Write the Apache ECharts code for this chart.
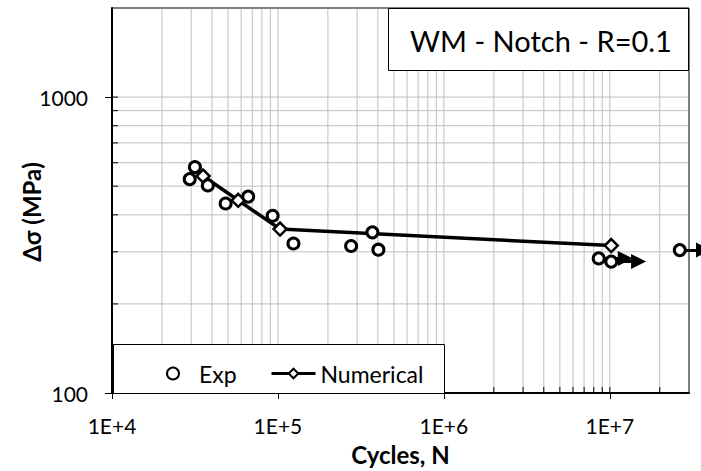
<!DOCTYPE html>
<html>
<head>
<meta charset="utf-8">
<script src="https://cdn.jsdelivr.net/npm/echarts@6/dist/echarts.min.js"></script>
<style>
  html, body { margin: 0; padding: 0; background: #fff; }
  #chart { width: 701px; height: 471px; }
</style>
</head>
<body>
<div id="chart"></div>
<script>
// experimental points (cycles, stress range)
var expN = [2.94e4, 3.16e4, 3.78e4, 4.84e4, 6.62e4, 9.29e4, 1.24e5, 2.76e5, 3.71e5, 4.03e5, 8.57e6, 1.02e7, 2.64e7];
var expS = [528, 580, 503, 437, 461, 397, 320, 314, 349, 305, 285, 278, 304];
// numerical curve
var numN = [3.54e4, 5.76e4, 1.03e5, 1.02e7];
var numS = [541, 448, 358, 315];
// run-outs: start point and arrow tip
var runN = [8.57e6, 1.02e7, 2.64e7];
var runS = [285, 278, 304];
var runEndN = [1.24e7, 1.49e7, 3.67e7];
// ticks and gridlines
var xTicks = [1e4, 1e5, 1e6, 1e7];
var yTicks = [100, 1000];
var xGrid = [2e4, 3e4, 4e4, 5e4, 6e4, 7e4, 8e4, 9e4, 1e5,
             2e5, 3e5, 4e5, 5e5, 6e5, 7e5, 8e5, 9e5, 1e6,
             2e6, 3e6, 4e6, 5e6, 6e6, 7e6, 8e6, 9e6, 1e7, 2e7];
var yGrid = [200, 300, 400, 500, 600, 700, 800, 900, 1000];
var X_MIN = 1e4, X_MAX = 3e7, Y_MIN = 100, Y_MAX = 2000;

var font = 'Lato, "Liberation Sans", sans-serif';

function pairs(a, b) {
	return a.map(function (v, i) { return [v, b[i]]; });
}

// vertical grid line + small inner tick on the x axis
function xGridItem(params, api) {
	var p = api.coord([api.value(0), Y_MIN]);
	var cs = params.coordSys;
	return {
		type: 'group',
		children: [
			{ type: 'line', shape: { x1: p[0], y1: cs.y + 1, x2: p[0], y2: cs.y + cs.height - 1 },
			  style: { stroke: '#bfbfbf', lineWidth: 1 } },
			{ type: 'line', shape: { x1: p[0], y1: cs.y + cs.height, x2: p[0], y2: cs.y + cs.height - 6 },
			  style: { stroke: '#000', lineWidth: 1 } }
		]
	};
}
// horizontal grid line + small inner tick on the y axis
function yGridItem(params, api) {
	var p = api.coord([X_MIN, api.value(1)]);
	var cs = params.coordSys;
	return {
		type: 'group',
		children: [
			{ type: 'line', shape: { x1: cs.x + 1, y1: p[1], x2: cs.x + cs.width - 1, y2: p[1] },
			  style: { stroke: '#bfbfbf', lineWidth: 1 } },
			{ type: 'line', shape: { x1: cs.x, y1: p[1], x2: cs.x + 6, y2: p[1] },
			  style: { stroke: '#000', lineWidth: 1 } }
		]
	};
}

var option = {
	backgroundColor: '#fff',
	animation: false,
	grid: {
		left: 112, top: 8, right: 12, bottom: 77,
		show: true, borderColor: '#000', borderWidth: 1
	},
	xAxis: {
		type: 'log', logBase: 10, min: X_MIN, max: X_MAX,
		name: 'Cycles, N', nameLocation: 'middle', nameGap: 49,
		nameTextStyle: { fontFamily: font, fontSize: 24, fontWeight: 'bold', color: '#000' },
		axisLine: { lineStyle: { color: '#000', width: 2 } },
		axisTick: { show: true, length: 6, customValues: xTicks, lineStyle: { color: '#000' } },
		axisLabel: {
			fontFamily: font, fontSize: 21, color: '#000', margin: 22,
			customValues: xTicks,
			formatter: function (v) { return '1E+' + Math.round(Math.log10(v)); }
		},
		splitLine: { show: false }
	},
	yAxis: {
		type: 'log', logBase: 10, min: Y_MIN, max: Y_MAX,
		axisLine: { lineStyle: { color: '#000', width: 2 } },
		axisTick: { show: true, length: 7, customValues: yTicks, lineStyle: { color: '#000' } },
		axisLabel: {
			fontFamily: font, fontSize: 21, color: '#000', margin: 24,
			customValues: yTicks,
			formatter: function (v) { return String(Math.round(v)); }
		},
		splitLine: { show: false }
	},
	legend: [
		{
			z: 200, left: 161, top: 357,
			itemWidth: 12, itemHeight: 12,
			textStyle: { fontFamily: font, fontSize: 23, color: '#000', padding: [0, 0, 0, 15] },
			data: ['Exp']
		},
		{
			z: 200, left: 265, top: 357,
			itemWidth: 44, itemHeight: 12,
			textStyle: { fontFamily: font, fontSize: 23, color: '#000' },
			data: [{ name: 'Numerical', lineStyle: { width: 3 } }]
		}
	],
	graphic: {
		elements: [
			{
				type: 'rect', z: 100,
				shape: { x: 113.5, y: 344.5, width: 331, height: 49 },
				style: { fill: '#fff', stroke: '#000', lineWidth: 1 }
			},
			{
				type: 'rect', z: 100,
				shape: { x: 388.5, y: 8.5, width: 300, height: 62 },
				style: { fill: '#fff', stroke: '#000', lineWidth: 1 }
			},
			{
				type: 'text', z: 101, x: 541, y: 40,
				style: {
					text: 'WM - Notch - R=0.1', fill: '#000',
					font: '29px ' + font, align: 'center', verticalAlign: 'middle'
				}
			},
			{
				type: 'text', z: 101, x: 31, y: 212, rotation: Math.PI / 2,
				style: {
					text: 'Δσ (MPa)', fill: '#000',
					font: 'bold 24px ' + font, align: 'center', verticalAlign: 'middle'
				}
			}
		]
	},
	series: [
		{
			type: 'custom', z: 1, silent: true, clip: true,
			renderItem: xGridItem,
			data: xGrid.map(function (v) { return [v, Y_MIN]; })
		},
		{
			type: 'custom', z: 1, silent: true, clip: true,
			renderItem: yGridItem,
			data: yGrid.map(function (v) { return [X_MIN, v]; })
		},
		{
			type: 'lines', coordinateSystem: 'cartesian2d', z: 2, clip: false,
			symbol: ['none', 'triangle'], symbolSize: [13, 15],
			lineStyle: { color: '#000', width: 3, opacity: 1 },
			data: runN.map(function (n, i) {
				return { coords: [[n, runS[i]], [runEndN[i], runS[i]]] };
			})
		},
		{
			name: 'Numerical', type: 'line', z: 3,
			symbol: 'diamond', symbolSize: 13,
			lineStyle: { color: '#000', width: 3.5 },
			itemStyle: { color: '#fff', borderColor: '#000', borderWidth: 2.5 },
			data: pairs(numN, numS)
		},
		{
			name: 'Exp', type: 'scatter', z: 4,
			symbol: 'circle', symbolSize: 11,
			itemStyle: { color: '#fff', borderColor: '#000', borderWidth: 3, opacity: 1 },
			data: pairs(expN, expS)
		}
	]
};

var chart = echarts.init(document.getElementById('chart'), null, { renderer: 'svg' });
chart.setOption(option);
</script>
</body>
</html>
